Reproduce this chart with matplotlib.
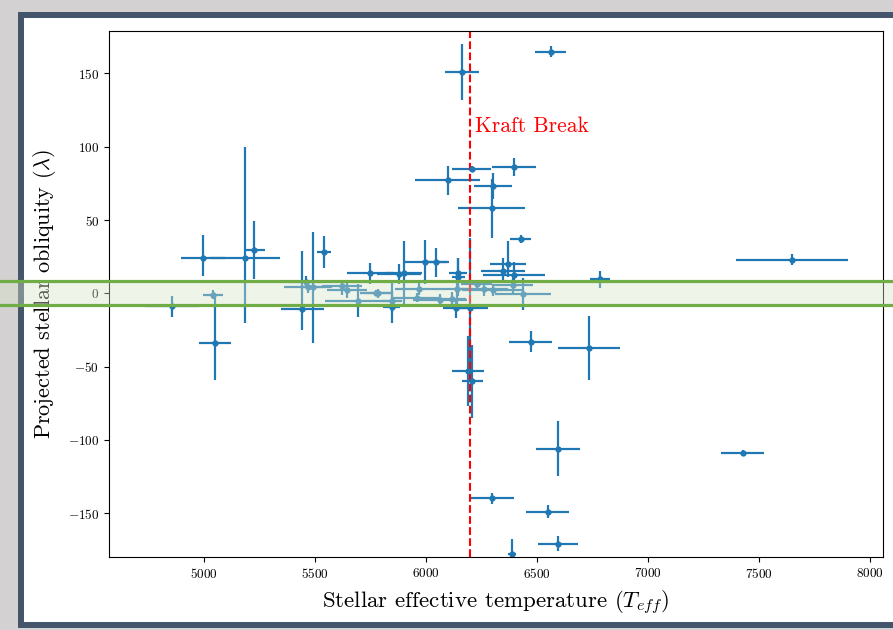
import matplotlib
matplotlib.use('Agg')
import matplotlib.pyplot as plt
from matplotlib.patches import Rectangle
from matplotlib.lines import Line2D
from matplotlib.transforms import blended_transform_factory

plt.rcParams['font.family'] = 'serif'
plt.rcParams['font.serif'] = ['cmr10', 'DejaVu Serif']
plt.rcParams['mathtext.fontset'] = 'cm'
plt.rcParams['axes.formatter.use_mathtext'] = True
plt.rcParams['axes.unicode_minus'] = True

# stellar effective temperature (K) and its error
teff = [6563, 6163, 6098, 6206, 6398, 6302, 6296, 6427, 6190, 6210,
        6200, 4998, 5186, 5227, 5542, 4856, 5042, 5051, 5444, 5493,
        5460, 5621, 5646, 5696, 5778, 5749, 5850, 5879, 5902, 5996,
        6045, 5971, 6064, 6146, 6146, 6140, 6136, 5846, 5786, 6371,
        6348, 6398, 6438, 6304, 6394, 6472, 6735, 6596, 6296, 6548,
        6596, 6386, 6783, 7648, 7427, 6260, 6230, 5960, 6120, 5470]
teff_err = [70, 77, 146, 86, 100, 86, 150, 47, 70, 47,
            80, 100, 158, 47, 30, 122, 45, 74, 97, 60,
            75, 90, 90, 150, 75, 105, 45, 100, 80, 98,
            60, 110, 120, 30, 40, 60, 60, 40, 60, 80,
            100, 140, 127, 140, 90, 98, 140, 100, 99, 97,
            90, 18, 45, 252, 97, 110, 70, 110, 60, 110]
# projected obliquity (deg) with lower / upper errors
lam = [165, 151, 77, 85, 86, 73, 58, 37, -53, -60,
       -10, 24, 24, 29.5, 28, -9, -1, -34, -11, 4,
       8, 5, 2, -5, 0, 13.5, -5, 13, 13.5, 21.5,
       21, 3, -4.6, 11, 14, 3, -10, -9.5, 0, 20,
       15, 12.5, -0.5, 2, 5.6, -33, -37.5, -106, -140, -149,
       -171, -178, 9.5, 23, -109, 3, 6, -3, -4, 4]
lam_lo = [4, 19, 10, 2, 6, 9, 20, 3, 24, 25,
          48, 12, 44, 20, 11, 7, 3, 25, 14, 38,
          4, 6, 5, 11, 2, 7, 8, 7, 22, 15,
          10, 4, 4, 13, 10, 10, 7, 11, 3, 9,
          8, 7, 11, 4, 6, 7, 22, 19, 4, 4.5,
          5, 10, 6, 4, 2, 5, 3, 3, 5, 4]
lam_hi = [4, 19, 10, 2, 6, 9, 20, 3, 24, 25,
          48, 16, 76, 20, 11, 7, 3, 34, 40, 38,
          4, 3, 5, 11, 2, 7, 12, 7, 22, 15,
          10, 4, 4, 13, 10, 10, 7, 11, 3, 16,
          9, 9, 11, 4, 6, 7, 22, 19, 4, 4.5,
          5, 10, 6, 4, 2, 5, 3, 3, 5, 4]

kraft_break = 6200

W, H = 893, 630
fig = plt.figure(figsize=(W / 100, H / 100), dpi=100, facecolor='#d3d1d1')

# screenshot frame
frame = Rectangle((21 / W, 5 / H), (898 - 21) / W, 610 / H, transform=fig.transFigure,
                  facecolor='white', edgecolor='#44546a', linewidth=4.3, zorder=-1)
fig.add_artist(frame)

ax = fig.add_axes([109 / W, 73 / H, 774 / W, 526 / H])
ax.errorbar(teff, lam, xerr=teff_err, yerr=[lam_lo, lam_hi], fmt='o', ms=3.5,
            color='#1f77b4', elinewidth=1.6, capsize=0)
ax.axvline(kraft_break, color='red', ls='--', lw=1.5)
ax.text(kraft_break + 22, 114, 'Kraft Break', color='red', fontsize=15.5, va='center')

ax.set_xlim(4574, 8058)
ax.set_ylim(-180, 179)
ax.set_xticks([5000, 5500, 6000, 6500, 7000, 7500, 8000])
ax.set_yticks([-150, -100, -50, 0, 50, 100, 150])
ax.tick_params(labelsize=9.5)
ax.set_xlabel(r'Stellar effective temperature ($T_{eff}$)', fontsize=16.5, labelpad=6)
ax.set_ylabel(r'Projected stellar obliquity ($\lambda$)', fontsize=16, labelpad=7)

# highlighted band drawn over the whole screenshot
trans = blended_transform_factory(fig.transFigure, ax.transData)
band = Rectangle((0, -8.0), 1, 16.6, transform=trans, facecolor='#d8e4c8',
                 alpha=0.4, edgecolor='none', zorder=10)
fig.add_artist(band)
for yv in (8.6, -8.0):
    fig.add_artist(Line2D([0, 1], [yv, yv], transform=trans, color='#70ad47', lw=2.3, zorder=11))

fig.savefig('out.png', dpi=100, facecolor=fig.get_facecolor())
